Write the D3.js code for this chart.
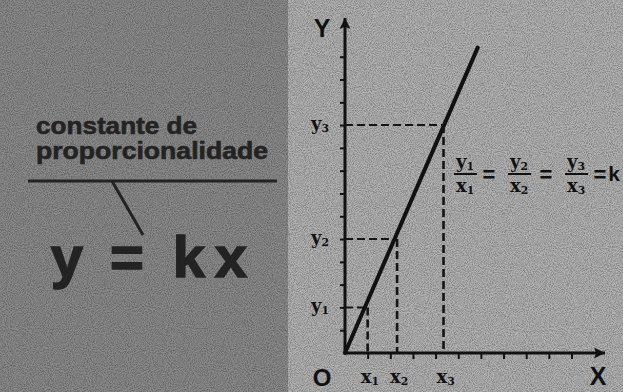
<!DOCTYPE html>
<html>
<head>
<meta charset="utf-8">
<script src="https://cdn.jsdelivr.net/npm/d3@7"></script>
<style>
  body { margin: 0; background: #b2b2b2; }
  svg { display: block; }
</style>
</head>
<body>
<div id="chart"></div>
<script>
// values (axis units = tick spacing)
const xTicks = [1, 2, 3, 4, 5, 6, 7, 8, 9, 10];
const yTicks = [1, 2, 3, 4, 5, 6, 7, 8, 9, 10, 11, 12, 13];
const pointX = [1, 2.3, 4.35];
const pointY = [2, 5, 10];
const pointLabels = ["1", "2", "3"];
const lineX = [0, 5.86];
const lineY = [0, 13.4];

const width = 623, height = 392;

const svg = d3.select("#chart").append("svg")
    .attr("width", width)
    .attr("height", height);

// noise filter, the original is a grainy print
const defs = svg.append("defs");
const grain = defs.append("filter").attr("id", "grain")
    .attr("x", 0).attr("y", 0).attr("width", "100%").attr("height", "100%");
grain.append("feTurbulence")
    .attr("type", "fractalNoise").attr("baseFrequency", 0.95)
    .attr("numOctaves", 2).attr("seed", 3).attr("result", "t");
grain.append("feColorMatrix").attr("type", "matrix")
    .attr("values", "0 0 0 0 0  0 0 0 0 0  0 0 0 0 0  0 0 0 -1.6 1.05");

defs.append("marker").attr("id", "arrow")
    .attr("viewBox", "0 0 10 10")
    .attr("refX", 10).attr("refY", 5)
    .attr("markerWidth", 15).attr("markerHeight", 11)
    .attr("markerUnits", "userSpaceOnUse")
    .attr("orient", "auto")
  .append("path")
    .attr("d", "M0,0L10,5L0,10L2,5Z")
    .attr("fill", "#111");

// panels
svg.append("rect").attr("x", 0).attr("y", 0).attr("width", 288).attr("height", height)
    .attr("fill", "#8b8b8b");
svg.append("rect").attr("x", 288).attr("y", 0).attr("width", width - 288).attr("height", height)
    .attr("fill", "#b3b3b3");
svg.append("rect").attr("width", width).attr("height", height)
    .attr("filter", "url(#grain)").attr("opacity", 0.4);

// ---- left panel ----
const left = svg.append("g").attr("fill", "#232323")
    .style("font-family", "'Liberation Sans', Arial, sans-serif")
    .style("font-weight", "bold");

left.append("text").attr("x", 36).attr("y", 134)
    .attr("font-size", 23).attr("textLength", 161).attr("lengthAdjust", "spacingAndGlyphs")
    .attr("stroke", "#232323").attr("stroke-width", 0.6)
    .text("constante de");
left.append("text").attr("x", 36).attr("y", 159)
    .attr("font-size", 23).attr("textLength", 232).attr("lengthAdjust", "spacingAndGlyphs")
    .attr("stroke", "#232323").attr("stroke-width", 0.6)
    .text("proporcionalidade");

left.append("line").attr("x1", 28).attr("x2", 277).attr("y1", 181).attr("y2", 181)
    .attr("stroke", "#232323").attr("stroke-width", 3);
left.append("line").attr("x1", 112).attr("y1", 181).attr("x2", 143).attr("y2", 235)
    .attr("stroke", "#232323").attr("stroke-width", 3);

const eq = [
  {t: "y", x: 67},
  {t: "=", x: 127},
  {t: "k", x: 189},
  {t: "x", x: 231}
];
left.selectAll("text.eq").data(eq).join("text")
    .attr("class", "eq")
    .attr("x", d => d.x).attr("y", 277)
    .attr("text-anchor", "middle")
    .attr("font-size", 58)
    .attr("stroke", "#232323").attr("stroke-width", 1.5)
    .text(d => d.t);

// ---- graph ----
const x = d3.scaleLinear().domain([0, 11.48]).range([345, 605]);
const y = d3.scaleLinear().domain([0, 14.7]).range([353, 18]);

const g = svg.append("g");

// axes lines with arrows
g.append("line")
    .attr("x1", x(0)).attr("y1", y(0)).attr("x2", x.range()[1]).attr("y2", y(0))
    .attr("stroke", "#111").attr("stroke-width", 3).attr("marker-end", "url(#arrow)");
g.append("line")
    .attr("x1", x(0)).attr("y1", y(0)).attr("x2", x(0)).attr("y2", y.range()[1])
    .attr("stroke", "#111").attr("stroke-width", 3).attr("marker-end", "url(#arrow)");

// ticks
const xAxis = g.append("g").attr("transform", `translate(0,${y(0)})`)
    .call(d3.axisBottom(x).tickValues(xTicks).tickSize(6).tickFormat(""));
xAxis.select(".domain").remove();
xAxis.selectAll("line").attr("stroke", "#111").attr("stroke-width", 2);

const yAxis = g.append("g").attr("transform", `translate(${x(0)},0)`)
    .call(d3.axisLeft(y).tickValues(yTicks).tickSize(5).tickFormat(""));
yAxis.select(".domain").remove();
yAxis.selectAll("line").attr("stroke", "#111").attr("stroke-width", 2);

// dashed guides
const pts = pointX.map((v, i) => ({x: v, y: pointY[i], lab: pointLabels[i]}));
g.selectAll("line.h").data(pts).join("line")
    .attr("class", "h")
    .attr("x1", x(0)).attr("x2", d => x(d.x))
    .attr("y1", d => y(d.y)).attr("y2", d => y(d.y))
    .attr("stroke", "#151515").attr("stroke-width", 2).attr("stroke-dasharray", "8,4");
g.selectAll("line.v").data(pts).join("line")
    .attr("class", "v")
    .attr("x1", d => x(d.x)).attr("x2", d => x(d.x))
    .attr("y1", d => y(d.y)).attr("y2", y(0))
    .attr("stroke", "#151515").attr("stroke-width", 2.6).attr("stroke-dasharray", "8,4");

// the line y = kx
const line = d3.line().x(d => x(d[0])).y(d => y(d[1]));
g.append("path")
    .datum(lineX.map((v, i) => [v, lineY[i]]))
    .attr("d", line)
    .attr("fill", "none").attr("stroke", "#111").attr("stroke-width", 4)
    .attr("stroke-linecap", "round");

// labels
const serif = "'DejaVu Serif', 'Liberation Serif', serif";
const sans = "'Liberation Sans', Arial, sans-serif";

function subLabel(sel, letter, sub, size) {
  sel.append("tspan").text(letter);
  sel.append("tspan").attr("font-size", size * 0.6).attr("dy", 2).text(sub);
}

g.selectAll("text.ylab").data(pts).join("text")
    .attr("class", "ylab")
    .attr("x", 311).attr("y", d => y(d.y) + 5)
    .attr("font-family", serif).attr("font-weight", "bold").attr("font-size", 18)
    .attr("fill", "#111")
    .each(function(d) { subLabel(d3.select(this), "y", d.lab, 18); });

g.selectAll("text.xlab").data(pts).join("text")
    .attr("class", "xlab")
    .attr("x", d => x(d.x) - 7).attr("y", 383)
    .attr("font-family", serif).attr("font-weight", "bold").attr("font-size", 18)
    .attr("fill", "#111")
    .each(function(d) { subLabel(d3.select(this), "x", d.lab, 18); });

g.append("text").attr("x", 322).attr("y", 386).attr("text-anchor", "middle")
    .attr("font-family", sans).attr("font-weight", "bold").attr("font-size", 24)
    .attr("fill", "#111").text("O");
g.append("text").attr("x", 598).attr("y", 385).attr("text-anchor", "middle")
    .attr("font-family", sans).attr("font-weight", "bold").attr("font-size", 25)
    .attr("fill", "#111").text("X");
g.append("text").attr("x", 322).attr("y", 37).attr("text-anchor", "middle")
    .attr("font-family", sans).attr("font-weight", "bold").attr("font-size", 25)
    .attr("fill", "#111").text("Y");

// ratio equation y1/x1 = y2/x2 = y3/x3 = k
const fracX = [465, 519, 576];
const eqX = [489, 546, 600];
const fr = g.append("g").attr("fill", "#111")
    .attr("font-family", serif).attr("font-weight", "bold");
pts.forEach((d, i) => {
  const num = fr.append("text").attr("x", fracX[i] - 9).attr("y", 168).attr("font-size", 18);
  subLabel(num, "y", d.lab, 18);
  fr.append("line").attr("x1", fracX[i] - 11).attr("x2", fracX[i] + 12)
      .attr("y1", 174).attr("y2", 174).attr("stroke", "#111").attr("stroke-width", 2);
  const den = fr.append("text").attr("x", fracX[i] - 9).attr("y", 192).attr("font-size", 18);
  subLabel(den, "x", d.lab, 18);
  fr.append("text").attr("x", eqX[i]).attr("y", 182).attr("text-anchor", "middle")
      .attr("font-family", sans).attr("font-size", 22).text("=");
});
fr.append("text").attr("x", 614).attr("y", 181).attr("text-anchor", "middle")
    .attr("font-family", sans).attr("font-weight", "bold").attr("font-size", 21).text("k");
</script>
</body>
</html>
